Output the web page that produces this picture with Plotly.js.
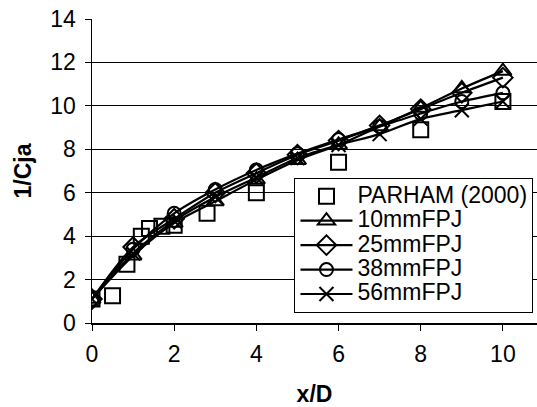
<!DOCTYPE html>
<html>
<head>
<meta charset="utf-8">
<script src="https://cdn.plot.ly/plotly-3.0.1.min.js"></script>
<style>html,body{margin:0;padding:0;background:#fff;}#chart{width:537px;height:407px;}</style>
</head>
<body>
<div id="chart"></div>
<script>
const parhamX = [0, 0.5, 0.85, 1.2, 1.4, 1.7, 2, 2.8, 4, 6, 8, 10];
const parhamY = [1.1, 1.25, 2.7, 4.0, 4.35, 4.45, 4.5, 5.05, 6.0, 7.4, 8.9, 10.2];
const modelX = [0, 1, 2, 3, 4, 5, 6, 7, 8, 9, 10];
const y10mm = [1.1, 3.1, 4.6, 5.6, 6.6, 7.5, 8.2, 9.05, 9.9, 10.8, 11.6];
const y25mm = [1.1, 3.5, 4.8, 6.0, 6.9, 7.75, 8.4, 9.1, 9.85, 10.6, 11.3];
const y38mm = [1.1, 3.4, 5.05, 6.15, 7.05, 7.8, 8.45, 9.05, 9.65, 10.2, 10.6];
const y56mm = [1.1, 3.2, 4.7, 5.8, 6.7, 7.6, 8.2, 8.7, 9.4, 9.8, 10.2];
const names = ['PARHAM (2000)', '10mmFPJ', '25mmFPJ', '38mmFPJ', '56mmFPJ'];

const big = n => '<span style="font-size:23px">' + n + '</span>';
const lineStyle = {color: '#000', width: 2.2, shape: 'spline', smoothing: 0.8};
function model(name, ys, symbol, size) {
  return {
    x: modelX, y: ys, name: big(name), type: 'scatter', mode: 'lines+markers',
    line: lineStyle,
    marker: {symbol: symbol, size: size, color: '#000', line: {color: '#000', width: 2}}
  };
}
const traces = [
  {x: parhamX, y: parhamY, name: big(names[0]), type: 'scatter', mode: 'markers',
   marker: {symbol: 'square-open', size: 15, color: '#000', line: {color: '#000', width: 2}}},
  model(names[1], y10mm, 'triangle-up-open', 15),
  model(names[2], y25mm, 'diamond-open', 15),
  model(names[3], y38mm, 'circle-open', 13),
  model(names[4], y56mm, 'x-thin-open', 14)
];
const font = {family: 'Liberation Sans, Arial, sans-serif', size: 23, color: '#000'};
const layout = {
  width: 537, height: 407,
  margin: {l: 92, r: 0, t: 19, b: 84},
  paper_bgcolor: '#fff', plot_bgcolor: '#fff',
  font: font,
  showlegend: true,
  legend: {x: 0.455, y: 0.477, xanchor: 'left', yanchor: 'top',
           bordercolor: '#000', borderwidth: 1, bgcolor: '#fff',
           font: {family: font.family, size: 16.5, color: '#000'}, tracegroupgap: 0, itemwidth: 52},
  xaxis: {range: [0, 10.83], dtick: 2, tick0: 0, showgrid: false, zeroline: false,
          showline: true, linecolor: '#000', linewidth: 1.5,
          ticks: 'outside', ticklen: 6, tickcolor: '#000', tickwidth: 1,
          tickfont: font, ticklabelstandoff: 4,
          title: {text: '<b>x/D</b>', font: font, standoff: 22}},
  yaxis: {range: [0, 14], dtick: 2, tick0: 0, showgrid: true, gridcolor: '#000', gridwidth: 1,
          zeroline: false, showline: true, linecolor: '#000', linewidth: 1.5,
          ticks: 'outside', ticklen: 6, tickcolor: '#000', tickwidth: 1,
          tickfont: font, ticklabelstandoff: 4,
          title: {text: '<b>1/Cja</b>', font: font, standoff: 12}}
};
Plotly.newPlot('chart', traces, layout, {staticPlot: true, displayModeBar: false});
</script>
</body>
</html>
